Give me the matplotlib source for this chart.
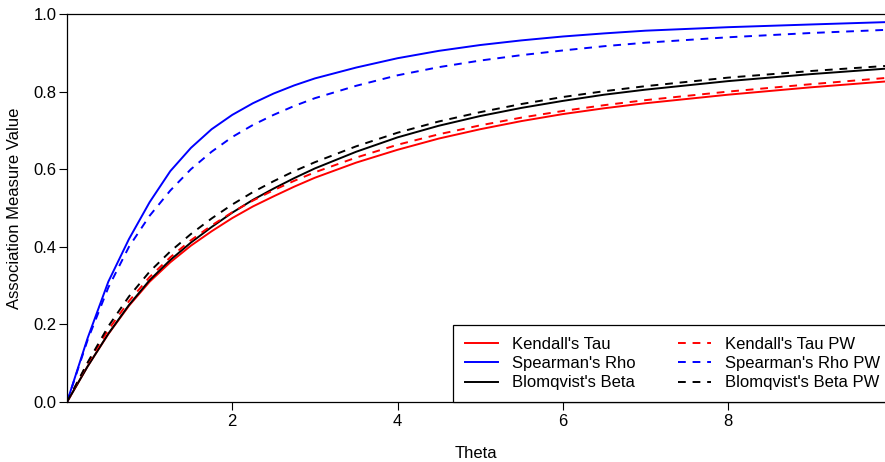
import matplotlib
matplotlib.use("Agg")
import matplotlib.pyplot as plt

theta = [0, 0.25, 0.5, 0.75, 1, 1.25, 1.5, 1.75, 2, 2.25, 2.5, 2.75, 3, 3.5, 4, 4.5, 5,
         5.5, 6, 6.5, 7, 8, 9, 9.9]

kendall_tau = [0, 0.092, 0.175, 0.248, 0.31, 0.36, 0.403, 0.44, 0.474, 0.504, 0.53, 0.555,
               0.578, 0.617, 0.65, 0.679, 0.703, 0.724, 0.742, 0.757, 0.77, 0.792, 0.811, 0.826]
spearman_rho = [0, 0.165, 0.31, 0.42, 0.515, 0.595, 0.655, 0.703, 0.74, 0.77, 0.795, 0.816,
                0.834, 0.862, 0.886, 0.905, 0.92, 0.932, 0.942, 0.95, 0.957, 0.966, 0.973, 0.979]
blomqvist_beta = [0, 0.092, 0.176, 0.25, 0.314, 0.366, 0.411, 0.451, 0.488, 0.521, 0.55, 0.577,
                  0.602, 0.645, 0.682, 0.712, 0.737, 0.758, 0.776, 0.792, 0.805, 0.827, 0.845, 0.859]
kendall_tau_pw = [0, 0.1, 0.186, 0.26, 0.322, 0.373, 0.417, 0.455, 0.489, 0.519, 0.546, 0.57,
                  0.592, 0.63, 0.663, 0.69, 0.713, 0.733, 0.75, 0.765, 0.778, 0.8, 0.819, 0.835]
spearman_rho_pw = [0, 0.16, 0.295, 0.4, 0.48, 0.545, 0.6, 0.645, 0.683, 0.714, 0.74, 0.763,
                   0.783, 0.815, 0.842, 0.863, 0.88, 0.894, 0.906, 0.917, 0.926, 0.94, 0.951, 0.959]
blomqvist_beta_pw = [0, 0.102, 0.195, 0.272, 0.336, 0.388, 0.433, 0.473, 0.509, 0.541, 0.569,
                     0.595, 0.618, 0.659, 0.694, 0.723, 0.747, 0.768, 0.786, 0.801, 0.814, 0.836,
                     0.853, 0.866]

labels = ["Kendall's Tau", "Spearman's Rho", "Blomqvist's Beta",
          "Kendall's Tau PW", "Spearman's Rho PW", "Blomqvist's Beta PW"]
xticks = [2, 4, 6, 8]
yticks = [0.0, 0.2, 0.4, 0.6, 0.8, 1.0]

plt.rcParams['font.family'] = ['Liberation Sans', 'DejaVu Sans']
plt.rcParams['font.size'] = 12

fig = plt.figure(figsize=(8.85, 4.62), dpi=100)
ax = fig.add_axes([67 / 885, 1 - 402 / 462, 1 - 67 / 885, (402 - 14) / 462])

lw = 1.4
dash = (0, (4, 3.5))
ax.plot(theta, kendall_tau, color='#FF0000', lw=lw, label=labels[0])
ax.plot(theta, spearman_rho, color='#0000FF', lw=lw, label=labels[1])
ax.plot(theta, blomqvist_beta, color='black', lw=lw, label=labels[2])
ax.plot(theta, kendall_tau_pw, color='#FF0000', lw=lw, ls=dash, label=labels[3])
ax.plot(theta, spearman_rho_pw, color='#0000FF', lw=lw, ls=dash, label=labels[4])
ax.plot(theta, blomqvist_beta_pw, color='black', lw=lw, ls=dash, label=labels[5])

ax.set_xlim(0, 9.9)
ax.set_ylim(0, 1.0)
ax.set_xticks(xticks)
ax.set_xticklabels([str(t) for t in xticks])
ax.set_yticks(yticks)
ax.set_yticklabels([f"{t:.1f}" for t in yticks])
ax.tick_params(axis='both', direction='out', length=6, width=0.8, color='black', labelsize=12)
ax.tick_params(axis='x', pad=3)
ax.tick_params(axis='y', pad=1.5)

for s in ['left', 'bottom', 'top']:
    ax.spines[s].set_linewidth(0.9)
    ax.spines[s].set_color('black')
ax.spines['right'].set_visible(False)

ax.set_xlabel("Theta", fontsize=12)
ax.xaxis.set_label_coords(0.5, -(453 - 402) / 388)
ax.xaxis.label.set_verticalalignment('center')
ax.set_ylabel("Association Measure Value", fontsize=12)
ax.yaxis.set_label_coords(-(67 - 15) / 818, 0.5)
ax.yaxis.label.set_verticalalignment('center')

leg = ax.legend(ncol=2, loc='lower left', bbox_to_anchor=((453.3 - 67) / 818, 0.0),
                fontsize=12, frameon=True, fancybox=False, shadow=False,
                handlelength=2.0, handletextpad=0.82, columnspacing=2.55,
                borderpad=0.7, labelspacing=0.25, borderaxespad=0.0)
frame = leg.get_frame()
frame.set_edgecolor('black')
frame.set_linewidth(0.9)
frame.set_facecolor('white')
frame.set_alpha(1.0)

fig.savefig("out.png", dpi=100)
